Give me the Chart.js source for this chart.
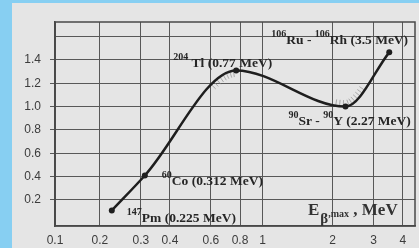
<!DOCTYPE html>
<html>
<head>
<meta charset="utf-8">
<script src="https://cdn.jsdelivr.net/npm/chart.js@4.4.0/dist/chart.umd.min.js"></script>
<style>
    html, body { margin: 0; padding: 0; background: #87cff2; }
    #panel { position: absolute; left: 12px; top: 3px; width: 407px; height: 245px; background: #e5e5e5; }
</style>
</head>
<body>
<div id="panel"><canvas id="myChart" width="407" height="245"></canvas></div>
<script>
// beta sources: max energy (MeV) and plotted value
var energies = [0.225, 0.312, 0.77, 2.27, 3.5];
var values = [0.11, 0.41, 1.31, 1.0, 1.465];
var massNumbers = [['147'], ['60'], ['204'], ['90', '90'], ['106', '106']];
var elements = [['Pm'], ['Co'], ['Tl'], ['Sr', 'Y'], ['Ru', 'Rh']];

var xTickValues = [0.1, 0.2, 0.3, 0.4, 0.6, 0.8, 1, 2, 3, 4];
var xTickLabels = ['0.1', '0.2', '0.3', '0.4', '0.6', '0.8', '1', '2', '3', '4'];
var yTickValues = [0.2, 0.4, 0.6, 0.8, 1.0, 1.2, 1.4, 1.6];
var yTickLabels = ['0.2', '0.4', '0.6', '0.8', '1.0', '1.2', '1.4', ''];

// energy ranges where the curve gets the little hatch marks
var hatchRanges = [[0.6, 0.76], [2.05, 2.8]];

// label offsets from each point (px): [dx, dy of baseline]
var labelOffsets = [[15, 12], [17, 9.5], [-63, -3], [-57, 18], [-118, -8]];

var TEXT = '#262626';
var SERIF = '"Liberation Serif", "DejaVu Serif", serif';

// frame, hatches, labels
var decorPlugin = {
    id: 'decor',
    beforeDatasetsDraw: function (chart) {
        var ctx = chart.ctx;
        var meta = chart.getDatasetMeta(0);
        var xs = chart.scales.x;
        meta.dataset.updateControlPoints(chart.chartArea, 'x');
        var pts = meta.data;
        ctx.save();
        ctx.strokeStyle = '#8e8e8e';
        ctx.lineWidth = 0.7;
        for (var i = 0; i < pts.length - 1; i++) {
            var p0 = pts[i], p3 = pts[i + 1];
            var c1 = { x: p0.cp2x, y: p0.cp2y }, c2 = { x: p3.cp1x, y: p3.cp1y };
            var acc = 0, last = null;
            for (var t = 0; t <= 1; t += 0.005) {
                var u = 1 - t;
                var bx = u * u * u * p0.x + 3 * u * u * t * c1.x + 3 * u * t * t * c2.x + t * t * t * p3.x;
                var by = u * u * u * p0.y + 3 * u * u * t * c1.y + 3 * u * t * t * c2.y + t * t * t * p3.y;
                if (last) acc += Math.hypot(bx - last.x, by - last.y);
                last = { x: bx, y: by };
                var e = xs.getValueForPixel(bx);
                var inRange = hatchRanges.some(function (r) { return e >= r[0] && e <= r[1]; });
                if (!inRange || acc < 3.6) continue;
                acc = 0;
                var dx = 3 * u * u * (c1.x - p0.x) + 6 * u * t * (c2.x - c1.x) + 3 * t * t * (p3.x - c2.x);
                var dy = 3 * u * u * (c1.y - p0.y) + 6 * u * t * (c2.y - c1.y) + 3 * t * t * (p3.y - c2.y);
                var ddx = 6 * u * (c2.x - 2 * c1.x + p0.x) + 6 * t * (p3.x - 2 * c2.x + c1.x);
                var ddy = 6 * u * (c2.y - 2 * c1.y + p0.y) + 6 * t * (p3.y - 2 * c2.y + c1.y);
                var len = Math.hypot(dx, dy) || 1;
                var nx = -dy / len, ny = dx / len;
                if (nx * ddx + ny * ddy < 0) { nx = -nx; ny = -ny; }
                ctx.beginPath();
                ctx.moveTo(bx + nx * 1, by + ny * 1);
                ctx.lineTo(bx + nx * 6.5, by + ny * 6.5);
                ctx.stroke();
            }
        }
        ctx.restore();
    },
    afterDraw: function (chart) {
        var ctx = chart.ctx;
        var area = chart.chartArea;
        ctx.save();
        ctx.strokeStyle = '#484848';
        ctx.lineWidth = 1.5;
        ctx.strokeRect(area.left, area.top, area.right - area.left, area.bottom - area.top);

        // point labels
        ctx.fillStyle = TEXT;
        ctx.textBaseline = 'alphabetic';
        var pts = chart.getDatasetMeta(0).data;
        pts.forEach(function (p, i) {
            var x = p.x + labelOffsets[i][0];
            var y = p.y + labelOffsets[i][1];
            var parts = [];
            elements[i].forEach(function (el, j) {
                parts.push(['sup', massNumbers[i][j]]);
                parts.push(['txt', el + (j < elements[i].length - 1 ? ' - ' : '')]);
            });
            parts.push(['txt', ' (' + energies[i] + ' MeV)']);
            if (i === 2) parts[1][1] = ' ' + parts[1][1];
            parts.forEach(function (part) {
                if (part[0] === 'sup') {
                    ctx.font = 'bold 10px ' + SERIF;
                    ctx.fillText(part[1], x, y - 7);
                } else {
                    ctx.font = 'bold 13.5px ' + SERIF;
                    ctx.fillText(part[1], x, y);
                }
                x += ctx.measureText(part[1]).width;
            });
        });

        // axis title  E beta,max , MeV
        var tx = area.right - 107;
        var ty = area.bottom - 11;
        ctx.fillStyle = '#333333';
        ctx.font = 'bold 17px ' + SERIF;
        ctx.fillText('E', tx, ty);
        tx += ctx.measureText('E').width + 1;
        ctx.font = 'bold 15px ' + SERIF;
        ctx.fillText('\u03b2', tx, ty + 8);
        tx += ctx.measureText('\u03b2').width;
        ctx.font = 'bold 10px ' + SERIF;
        ctx.fillText(',max', tx, ty + 2);
        tx += ctx.measureText(',max').width;
        ctx.font = 'bold 17px ' + SERIF;
        ctx.fillText(' , MeV', tx, ty);
        ctx.restore();
    }
};

var points = energies.map(function (e, i) { return { x: e, y: values[i] }; });

var ctx = document.getElementById('myChart').getContext('2d');
var myChart = new Chart(ctx, {
    type: 'line',
    data: {
        datasets: [{
            data: points,
            borderColor: '#1e1e1e',
            borderWidth: 2.5,
            pointRadius: 3,
            pointBackgroundColor: '#1e1e1e',
            pointBorderWidth: 0,
            cubicInterpolationMode: 'monotone',
            fill: false
        }]
    },
    options: {
        responsive: false,
        animation: false,
        devicePixelRatio: 1,
        layout: { padding: { left: 0, top: 19, right: 2, bottom: 0 } },
        plugins: { legend: { display: false }, tooltip: { enabled: false } },
        scales: {
            x: {
                type: 'logarithmic',
                min: 0.1283,
                max: 4.515,
                afterBuildTicks: function (scale) {
                    scale.ticks = xTickValues.map(function (v, i) {
                        return { value: i === 0 ? scale.min : v };
                    });
                },
                afterFit: function (scale) { scale.height = 22; },
                ticks: {
                    autoSkip: false,
                    maxRotation: 0,
                    padding: 7,
                    color: '#3c3c3c',
                    font: { family: '"Liberation Sans", Arial, sans-serif', size: 12 },
                    callback: function (val, i) { return xTickLabels[i]; }
                },
                grid: { color: '#585858', lineWidth: 1, drawTicks: false },
                border: { color: '#484848', width: 1.5 }
            },
            y: {
                min: -0.023,
                max: 1.725,
                afterBuildTicks: function (scale) {
                    scale.ticks = yTickValues.map(function (v) { return { value: v }; });
                },
                afterFit: function (scale) { scale.width = 43; },
                ticks: {
                    padding: 9,
                    color: '#3c3c3c',
                    font: { family: '"Liberation Sans", Arial, sans-serif', size: 12 },
                    callback: function (val, i) { return yTickLabels[i]; }
                },
                grid: {
                    color: '#585858',
                    lineWidth: 1,
                    tickLength: 5,
                    tickColor: function (c) { return yTickLabels[c.index] ? '#585858' : 'rgba(0,0,0,0)'; }
                },
                border: { color: '#484848', width: 1.5 }
            }
        }
    },
    plugins: [decorPlugin]
});
</script>
</body>
</html>
